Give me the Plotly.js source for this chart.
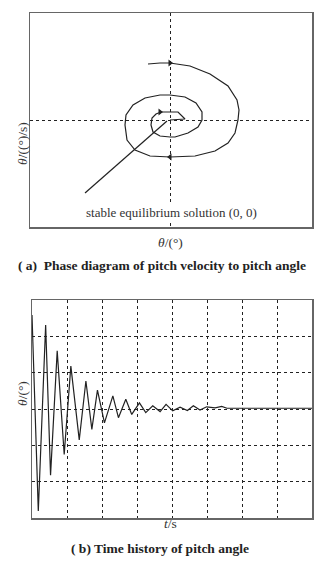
<!DOCTYPE html>
<html><head><meta charset="utf-8">
<script src="https://cdn.plot.ly/plotly-3.0.1.min.js"></script>
<style>html,body{margin:0;padding:0;background:#fff}#chart{width:324px;height:572px}</style>
</head><body><div id="chart"></div>
<script>
// (a) phase trajectory: pitch angle vs pitch rate (arbitrary units, no tick labels)
const phaseTheta = [-22,-10,0,20,40,58,67,69,68,65,58,45,25,0,-20,-35,-43,-45,-44,-37,-25,-10,0,15,26,32,32,28,18,5,0,-10,-17,-19,-18,-14,-9,0,8,15,0];
const phaseRate  = [56,57,57,54,46,34,20,10,0,-13,-23,-31,-36,-37,-36,-30,-20,-5,5,15,22,25,25,23,17,8,0,-7,-13,-17,-17,-16,-12,-5,2,6,8,8,8,1,0];
const pointerTheta = [-3,-85];
const pointerRate  = [-1,-73];
const arrowTheta = [0,0,-10];
const arrowRate  = [57,-37,8];
const arrowDir   = ['triangle-right','triangle-left','triangle-right'];

// (b) time history of pitch angle
const timeS = [0,0.18,0.39,0.53,0.72,0.92,1.11,1.35,1.54,1.71,1.87,2.07,2.31,2.47,2.68,2.85,3.07,3.25,3.45,3.66,3.83,4.02,4.23,4.44,4.61,4.80,4.99,5.23,5.42,5.57,8.0];
const pitchAngle = [2.59,-2.81,2.31,-1.82,1.60,-1.25,1.18,-0.85,0.77,-0.56,0.52,-0.38,0.36,-0.24,0.27,-0.15,0.17,-0.10,0.09,-0.07,0.13,-0.05,0.05,-0.04,0.09,-0.03,0.06,0.03,0.07,0.02,0.02];

const ink = '#222';
const serif = 'Liberation Serif';

const traces = [
  {x: phaseTheta, y: phaseRate, xaxis:'x', yaxis:'y', mode:'lines', line:{color:ink, width:1.2}, hoverinfo:'skip'},
  {x: pointerTheta, y: pointerRate, xaxis:'x', yaxis:'y', mode:'lines', line:{color:ink, width:1.2}, hoverinfo:'skip'},
  {x: arrowTheta, y: arrowRate, xaxis:'x', yaxis:'y', mode:'markers', marker:{symbol:arrowDir, size:6, color:ink}, hoverinfo:'skip'},
  {x: timeS, y: pitchAngle, xaxis:'x2', yaxis:'y2', mode:'lines', line:{color:ink, width:1.2}, hoverinfo:'skip'}
];

const boxAxis = {showline:true, mirror:true, linecolor:'#666', linewidth:1.5, ticks:'', showticklabels:false, zeroline:false};
const dashGrid = {showgrid:true, gridcolor:ink, griddash:'3px,3px', gridwidth:1};

const layout = {
  width:324, height:572, margin:{l:0,r:0,t:0,b:0},
  paper_bgcolor:'#fff', plot_bgcolor:'#fff', showlegend:false,
  font:{family:serif, color:'#333'},
  xaxis: Object.assign({}, boxAxis, dashGrid, {domain:[30/324, 312/324], range:[-140,142], tickvals:[0]}),
  yaxis: Object.assign({}, boxAxis, dashGrid, {domain:[1-227/572, 1-13/572], range:[-107,107], tickvals:[0]}),
  xaxis2: Object.assign({}, boxAxis, dashGrid, {domain:[32/324, 312/324], range:[0,8], dtick:1, tick0:0, anchor:'y2'}),
  yaxis2: Object.assign({}, boxAxis, dashGrid, {domain:[1-518/572, 1-300/572], range:[-3,3], dtick:1, tick0:0, anchor:'x2'}),
  annotations: [
    {text:'stable equilibrium solution (0, 0)', x:171/324, y:1-212/572, xref:'paper', yref:'paper', showarrow:false, font:{size:13, family:serif, color:'#333'}, bgcolor:'#fff'},
    {text:'<i>θ</i>/(°)', x:170/324, y:1-242/572, xref:'paper', yref:'paper', showarrow:false, font:{size:13.5, family:serif, color:'#333'}},
    {text:'<i>θ̇</i>/((°)/s)', x:13/324, y:1-120/572, xref:'paper', yref:'paper', showarrow:false, textangle:-90, font:{size:13.5, family:serif, color:'#333'}},
    {text:'<b>( a)  Phase diagram of pitch velocity to pitch angle</b>', x:162/324, y:1-265/572, xref:'paper', yref:'paper', showarrow:false, font:{size:13.5, family:serif, color:'#222'}},
    {text:'<i>t</i>/s', x:170/324, y:1-533/572, xref:'paper', yref:'paper', showarrow:false, font:{size:13.5, family:serif, color:'#333'}},
    {text:'<i>θ</i>/(°)', x:13/324, y:1-408/572, xref:'paper', yref:'paper', showarrow:false, textangle:-90, font:{size:13.5, family:serif, color:'#333'}},
    {text:'<b>( b) Time history of pitch angle</b>', x:160/324, y:1-558/572, xref:'paper', yref:'paper', showarrow:false, font:{size:13.5, family:serif, color:'#222'}}
  ]
};

Plotly.newPlot('chart', traces, layout, {staticPlot:true, displayModeBar:false});
</script>
</body></html>
